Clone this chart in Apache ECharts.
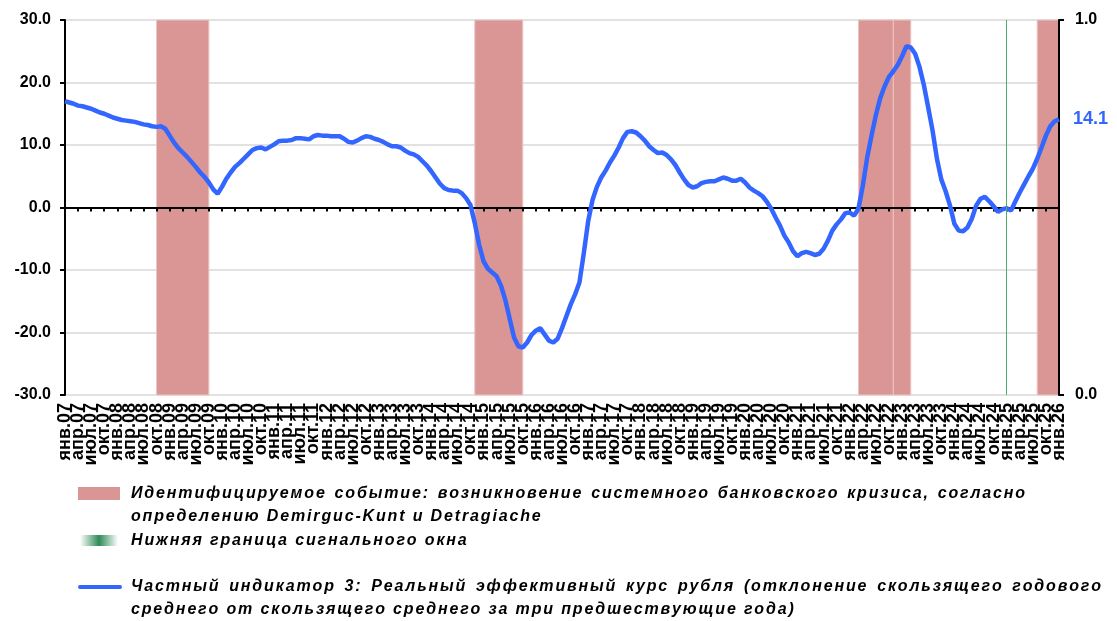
<!DOCTYPE html>
<html>
<head>
<meta charset="utf-8">
<style>
  html, body { margin: 0; padding: 0; background: #fff; }
  #chart { width: 1117px; height: 621px; }
</style>
<script src="https://cdn.jsdelivr.net/npm/echarts@6/dist/echarts.min.js"></script>
</head>
<body>
<div id="chart"></div>
<script>
// категории: месяцы янв.07 … янв.26
const monthNames = ['янв', 'фев', 'мар', 'апр', 'май', 'июн', 'июл', 'авг', 'сен', 'окт', 'ноя', 'дек']
const years = [2007, 2008, 2009, 2010, 2011, 2012, 2013, 2014, 2015, 2016, 2017, 2018, 2019, 2020, 2021, 2022, 2023, 2024, 2025, 2026]
const lastMonth = 'янв.26'

// Частный индикатор 3 (помесячно)
const indicator = [
  17.0, 16.8, 16.6, 16.3, 16.2, 16.0, 15.8, 15.5, 15.2, 15.0, 14.7, 14.4,       // 2007
  14.2, 14.0, 13.9, 13.8, 13.7, 13.5, 13.3, 13.2, 13.0, 12.9, 13.0, 12.6,       // 2008
  11.5, 10.4, 9.5, 8.8, 8.1, 7.3, 6.5, 5.6, 4.9, 4.0, 2.9, 2.2,                 // 2009
  3.3, 4.6, 5.6, 6.5, 7.1, 7.8, 8.5, 9.2, 9.5, 9.6, 9.3, 9.7,                   // 2010
  10.1, 10.6, 10.7, 10.7, 10.8, 11.1, 11.1, 11.0, 10.9, 11.4, 11.6, 11.5,       // 2011
  11.5, 11.4, 11.4, 11.4, 11.0, 10.5, 10.4, 10.7, 11.1, 11.4, 11.3, 11.0,       // 2012
  10.8, 10.5, 10.1, 9.8, 9.8, 9.6, 9.1, 8.7, 8.5, 8.1, 7.4, 6.7,                // 2013
  5.8, 4.8, 3.8, 3.1, 2.8, 2.7, 2.7, 2.3, 1.5, 0.4, -2.5, -6.0,                 // 2014
  -8.6, -9.8, -10.4, -11.0, -12.5, -14.8, -17.8, -20.8, -22.2, -22.4, -21.6, -20.4, // 2015
  -19.7, -19.3, -20.3, -21.3, -21.6, -21.0, -19.3, -17.4, -15.5, -13.9, -12.0, -7.3, // 2016
  -2.2, 1.2, 3.3, 4.8, 5.9, 7.2, 8.3, 9.6, 11.1, 12.1, 12.2, 12.0,              // 2017
  11.4, 10.7, 9.8, 9.2, 8.7, 8.8, 8.4, 7.7, 6.8, 5.6, 4.5, 3.6,                 // 2018
  3.2, 3.4, 3.9, 4.1, 4.2, 4.2, 4.5, 4.8, 4.6, 4.3, 4.3, 4.6,                   // 2019
  4.0, 3.2, 2.7, 2.3, 1.8, 0.9, -0.2, -1.6, -2.9, -4.5, -5.6, -7.0,             // 2020
  -7.8, -7.3, -7.1, -7.3, -7.6, -7.4, -6.6, -5.3, -3.7, -2.7, -1.9, -0.9,       // 2021
  -0.8, -1.3, -0.2, 3.5, 8.0, 11.5, 14.8, 17.5, 19.4, 20.9, 21.8, 22.8,         // 2022
  24.2, 25.8, 25.6, 24.6, 22.5, 19.6, 16.0, 12.3, 7.8, 4.5, 2.6, 0.3,           // 2023
  -2.6, -3.7, -3.8, -3.2, -1.8, 0.3, 1.4, 1.7, 1.0, 0.2, -0.7, -0.3,            // 2024
  -0.1, -0.5, 1.0, 2.4, 3.7, 5.0, 6.2, 7.8, 9.6, 11.5, 13.0, 13.8,              // 2025
  14.1                                                                          // 2026
]

// периоды кризисов (начало, конец)
const crisisPeriods = [
  ['окт.08', 'окт.09'],
  ['ноя.14', 'окт.15'],
  ['мар.22', 'ноя.22'],
  ['ноя.22', 'мар.23'],
  ['авг.25', 'янв.26']
]
// нижняя граница сигнального окна
const signalWindow = ['янв.25']

const leftAxis = { min: -30, max: 30, interval: 10 }
const rightAxis = { min: 0, max: 1, interval: 1 }

const legendLines = [
  { text: 'Идентифицируемое событие: возникновение системного банковского кризиса, согласно', y: 494, justifyTo: 1025 },
  { text: 'определению Demirguc-Kunt и Detragiache', y: 517 },
  { text: 'Нижняя граница сигнального окна', y: 541 },
  { text: 'Частный индикатор 3: Реальный эффективный курс рубля (отклонение скользящего годового', y: 587, justifyTo: 1101 },
  { text: 'среднего от скользящего среднего за три предшествующие года)', y: 610 }
]

const categories = []
years.forEach(y => monthNames.forEach(m => {
  if (categories.length && categories[categories.length - 1] === lastMonth) return
  categories.push(m + '.' + String(y).slice(2))
}))

const FONT = "'Liberation Sans', Arial, sans-serif"
const BLUE = '#3366ff'
const PINK = '#d99694'

// строка легенды: разрядка между буквами, при необходимости растянута по ширине
const ctx = document.createElement('canvas').getContext('2d')
const LEGEND_SIZE = 16
const LETTER_SPACING = 1.85
const legendText = (line, x) => {
  const base = { fill: '#000', fontSize: LEGEND_SIZE, fontWeight: 'bold', fontStyle: 'italic', fontFamily: FONT, verticalAlign: 'middle' }
  ctx.font = 'italic bold ' + LEGEND_SIZE + 'px ' + FONT
  const chars = [...line.text]
  const widths = chars.map(c => ctx.measureText(c).width + LETTER_SPACING)
  const natural = widths.reduce((a, b) => a + b, 0) - LETTER_SPACING
  const spaces = chars.filter(c => c === ' ').length
  const extra = line.justifyTo ? (line.justifyTo - x - natural) / spaces : 0
  let cx = x
  const out = []
  chars.forEach((c, i) => {
    if (c !== ' ') out.push({ type: 'text', x: cx, y: line.y, silent: true, style: { ...base, text: c } })
    cx += widths[i] + (c === ' ' ? extra : 0)
  })
  return out
}

const chart = echarts.init(document.getElementById('chart'))

const axisFont = { fontSize: 16, fontWeight: 'bold', color: '#000', fontFamily: FONT }

const option = {
  animation: false,
  grid: { left: 65, right: 58, top: 20, bottom: 226 },
  xAxis: [
    {
      type: 'category',
      data: categories,
      boundaryGap: false,
      position: 'bottom',
      axisLine: { show: false, onZero: false },
      axisTick: { show: false },
      axisLabel: {
        ...axisFont, fontSize: 18, interval: 0, rotate: 90, margin: 8,
        // подписи — раз в квартал
        formatter: (v, i) => (i % 3 === 0 ? v : '')
      },
      splitLine: { show: false }
    },
    {
      type: 'category',
      data: categories,
      boundaryGap: false,
      position: 'bottom',
      z: 2,
      axisLine: { onZero: true, onZeroAxisIndex: 0, lineStyle: { color: '#000', width: 2 } },
      axisTick: { show: true, interval: 2, length: 4, lineStyle: { color: '#000', width: 2 } },
      axisLabel: { show: false },
      splitLine: { show: false }
    }
  ],
  yAxis: [
    {
      type: 'value',
      position: 'left',
      ...leftAxis,
      axisLine: { show: true, lineStyle: { color: '#000', width: 2 } },
      axisTick: { show: true, length: 5, lineStyle: { color: '#000', width: 2 } },
      axisLabel: { ...axisFont, margin: 14, formatter: v => v.toFixed(1) },
      splitLine: { lineStyle: { color: '#d9d9d9', width: 1.5 } }
    },
    {
      type: 'value',
      position: 'right',
      ...rightAxis,
      z: 2,
      axisLine: { show: true, lineStyle: { color: '#000', width: 2 } },
      axisTick: { show: true, length: 5, lineStyle: { color: '#000', width: 2 } },
      axisLabel: { ...axisFont, margin: 16, formatter: v => v.toFixed(1) },
      splitLine: { show: false }
    }
  ],
  series: [
    {
      name: 'Идентифицируемое событие',
      type: 'line',
      data: [],
      z: 1,
      markArea: {
        silent: true,
        itemStyle: { color: PINK, borderColor: '#ecc4c3', borderWidth: 1 },
        data: crisisPeriods.map(([a, b]) => [{ xAxis: a }, { xAxis: b }])
      },
      markLine: {
        silent: true,
        symbol: 'none',
        label: { show: false },
        lineStyle: { color: '#4caf6e', width: 1, type: 'solid' },
        data: signalWindow.map(d => ({ xAxis: d }))
      }
    },
    {
      name: 'Частный индикатор 3',
      type: 'line',
      data: indicator,
      z: 3,
      showSymbol: false,
      lineStyle: { color: BLUE, width: 4.5 },
      itemStyle: { color: BLUE },
      endLabel: {
        show: true,
        distance: 14,
        formatter: p => Number(p.value).toFixed(1),
        color: BLUE,
        fontSize: 18,
        fontWeight: 'bold',
        fontFamily: FONT
      }
    }
  ],
  graphic: [
    { type: 'rect', shape: { x: 78, y: 487, width: 42, height: 13 }, style: { fill: PINK } },
    {
      type: 'rect',
      shape: { x: 80, y: 535, width: 38, height: 11 },
      style: {
        fill: new echarts.graphic.LinearGradient(0, 0, 1, 0, [
          { offset: 0, color: 'rgba(46,139,87,0)' },
          { offset: 0.5, color: 'rgba(46,139,87,1)' },
          { offset: 1, color: 'rgba(46,139,87,0)' }
        ])
      }
    },
    { type: 'line', shape: { x1: 80, y1: 587, x2: 120, y2: 587 }, style: { stroke: BLUE, lineWidth: 4, lineCap: 'round' } },
    ...legendLines.flatMap(l => legendText(l, 131))
  ]
}

chart.setOption(option)
</script>
</body>
</html>
